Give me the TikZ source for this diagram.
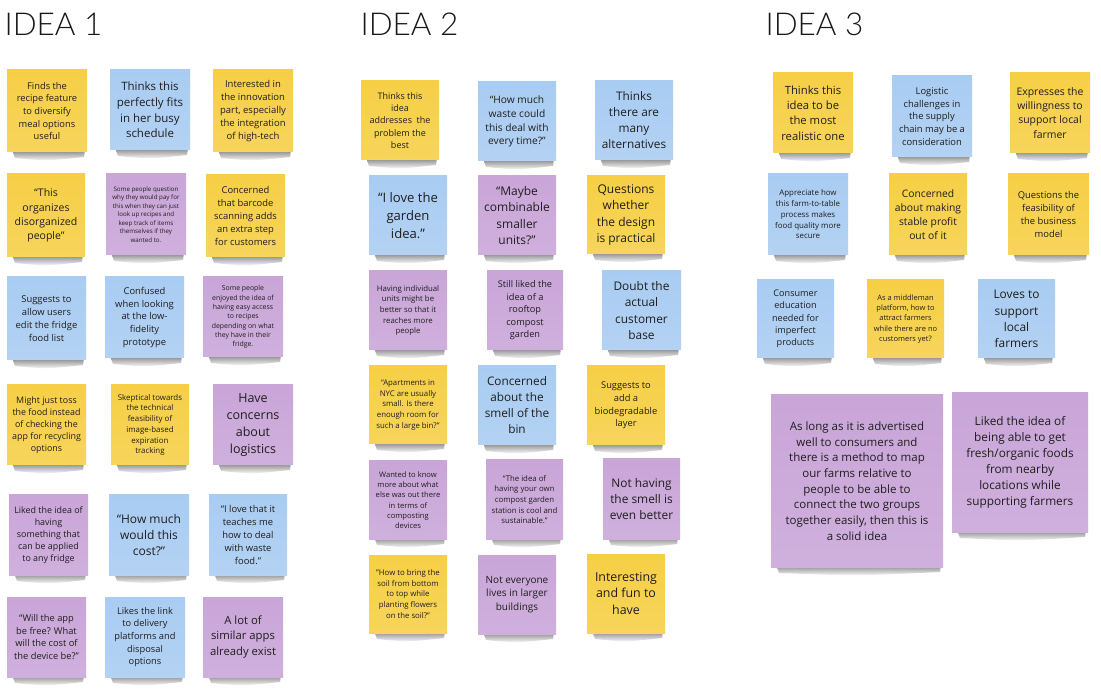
\documentclass[tikz,border=0pt]{standalone}
\usepackage{fontspec}
\setmainfont{Open Sans}
\IfFontExistsTF{Lato Light}{\newfontfamily\titlefont{Lato Light}}{\newfontfamily\titlefont{Lato}}

\definecolor{ny}{HTML}{F6CF45}
\definecolor{nb}{HTML}{A9CCF2}
\definecolor{np}{HTML}{C9A5D8}
\definecolor{ink}{HTML}{1E1E1E}

\newlength\notelead
\newcommand{\notefont}[1]{\setlength\notelead{#1pt}\setlength\notelead{1.36\notelead}\fontsize{#1}{\notelead}\selectfont}

\tikzset{
  note/.style={inner sep=0pt, align=center, text=ink},
  title/.style={anchor=base west, text=black!90, font=\titlefont\fontsize{31.5}{36}\selectfont},
  curl/.style={top color=black!60, bottom color=white, opacity=0.8, draw=none}
}

% sticky note: name, x1, y1, x2, y2, colour, font size, text
\newcommand{\stickynote}[8]{%
  \shade[curl] ({#2+5},{#5-2}) -- ({#2+8},{#5+6})
    .. controls ({(#2+#4)/2},{#5+9}) .. ({#4-3},{#5+5}) -- ({#4-2},{#5-2}) -- cycle;
  \node[note, top color=#6, bottom color=#6!88!white,
        minimum width={(#4-#2)*1pt}, minimum height={(#5-#3)*1pt},
        font=\notefont{#7}] (#1) at ({(#2+#4)/2},{(#3+#5)/2}) {#8};
}

\begin{document}
\begin{tikzpicture}[x=1pt,y=-1pt]
\fill[white] (0,0) rectangle (1101,692);
\useasboundingbox (0,0) rectangle (1101,692);

% column titles
\node[title] (t1) at (1,36) {IDEA 1};
\node[title] (t2) at (357,36) {IDEA 2};
\node[title] (t3) at (762,36) {IDEA 3};

% ---- IDEA 1 ----
\stickynote{a1}{7}{70}{87}{152}{ny}{9.3}{Finds the\\recipe feature\\to diversify\\meal options\\useful}
\stickynote{a2}{110}{70}{190}{150}{nb}{11.5}{Thinks this\\perfectly fits\\in her busy\\schedule}
\stickynote{a3}{213}{70}{293}{152}{ny}{9.5}{Interested in\\the innovation\\part, especially\\the integration\\of high-tech}
\stickynote{a4}{7}{174}{85}{257}{ny}{10.5}{“This\\organizes\\disorganized\\people”}
\stickynote{a5}{106}{174}{186}{255}{np}{6.2}{Some people question\\why they would pay for\\this when they can just\\look up recipes and\\keep track of items\\themselves if they\\wanted to.}
\stickynote{a6}{206}{175}{285}{257}{ny}{9.4}{Concerned\\that barcode\\scanning adds\\an extra step\\for customers}
\stickynote{a7}{7}{277}{86}{360}{nb}{9.4}{Suggests to\\allow users\\edit the fridge\\food list}
\stickynote{a8}{105}{277}{184}{358}{nb}{9.4}{Confused\\when looking\\at the low-\\fidelity\\prototype}
\stickynote{a9}{203}{277}{283}{357}{np}{6.9}{Some people\\enjoyed the idea of\\having easy access\\to recipes\\depending on what\\they have in their\\fridge.}
\stickynote{a10}{7}{385}{86}{465}{ny}{8.9}{Might just toss\\the food instead\\of checking the\\app for recycling\\options}
\stickynote{a11}{111}{385}{189}{465}{ny}{7.9}{Skeptical towards\\the technical\\feasibility of\\image-based\\expiration\\tracking}
\stickynote{a12}{213}{385}{293}{465}{np}{12.5}{Have\\concerns\\about\\logistics}
\stickynote{a13}{9}{495}{88}{575}{np}{8.9}{Liked the idea of\\having\\something that\\can be applied\\to any fridge}
\stickynote{a14}{109}{495}{189}{575}{nb}{12}{“How much\\would this\\cost?”}
\stickynote{a15}{209}{495}{287}{575}{nb}{9.4}{“I love that it\\teaches me\\how to deal\\with waste\\food.”}
\stickynote{a16}{7}{597}{86}{677}{np}{9.3}{“Will the app\\be free? What\\will the cost of\\the device be?”}
\stickynote{a17}{105}{597}{185}{677}{nb}{9.3}{Likes the link\\to delivery\\platforms and\\disposal\\options}
\stickynote{a18}{203}{597}{283}{677}{np}{11.3}{A lot of\\similar apps\\already exist}

% ---- IDEA 2 ----
\stickynote{b1}{361}{81}{439}{160}{ny}{9.0}{Thinks this\\idea\\addresses~ the\\problem the\\best}
\stickynote{b2}{478}{82}{556}{161}{nb}{10.2}{“How much\\waste could\\this deal with\\every time?”}
\stickynote{b3}{595}{81}{673}{160}{nb}{11.8}{Thinks\\there are\\many\\alternatives}
\stickynote{b4}{369}{176}{447}{255}{nb}{13.1}{“I love the\\garden\\idea.”}
\stickynote{b5}{478}{176}{556}{255}{np}{12}{“Maybe\\combinable\\smaller\\units?”}
\stickynote{b6}{587}{176}{665}{254}{ny}{12}{Questions\\whether\\the design\\is practical}
\stickynote{b7}{369}{271}{447}{350}{np}{7.8}{Having individual\\units might be\\better so that it\\reaches more\\people}
\stickynote{b8}{487}{271}{563}{350}{np}{9.2}{Still liked the\\idea of a\\rooftop\\compost\\garden}
\stickynote{b9}{602}{271}{681}{350}{nb}{11.9}{Doubt the\\actual\\customer\\base}
\stickynote{b10}{369}{366}{447}{444}{ny}{7.8}{“Apartments in\\NYC are usually\\small. Is there\\enough room for\\such a large bin?”}
\stickynote{b11}{478}{366}{556}{445}{nb}{11.8}{Concerned\\about the\\smell of the\\bin}
\stickynote{b12}{587}{366}{665}{445}{ny}{9.3}{Suggests to\\add a\\biodegradable\\layer}
\stickynote{b13}{369}{461}{447}{539}{np}{7.6}{Wanted to know\\more about what\\else was out there\\in terms of\\composting\\devices}
\stickynote{b14}{486}{460}{563}{539}{np}{7.8}{“The idea of\\having your own\\compost garden\\station is cool and\\sustainable.”}
\stickynote{b15}{603}{459}{680}{539}{np}{11.9}{Not having\\the smell is\\even better}
\stickynote{b16}{369}{555}{447}{633}{ny}{7.8}{"How to bring the\\soil from bottom\\to top while\\planting flowers\\on the soil?"}
\stickynote{b17}{478}{555}{556}{634}{np}{10}{Not everyone\\lives in larger\\buildings}
\stickynote{b18}{587}{554}{665}{633}{ny}{12.4}{Interesting\\and fun to\\have}

% ---- IDEA 3 ----
\stickynote{c1}{773}{73}{853}{153}{ny}{11.3}{Thinks this\\idea to be\\the most\\realistic one}
\stickynote{c2}{892}{76}{972}{157}{nb}{9.4}{Logistic\\challenges in\\the supply\\chain may be a\\consideration}
\stickynote{c3}{1010}{73}{1090}{153}{ny}{10.4}{Expresses the\\willingness to\\support local\\farmer}
\stickynote{c4}{768}{174}{848}{255}{nb}{7.9}{Appreciate how\\this farm-to-table\\process makes\\food quality more\\secure}
\stickynote{c5}{889}{174}{967}{255}{ny}{10.3}{Concerned\\about making\\stable profit\\out of it}
\stickynote{c6}{1008}{174}{1089}{255}{ny}{9.4}{Questions the\\feasibility of\\the business\\model}
\stickynote{c7}{757}{280}{834}{358}{nb}{9.1}{Consumer\\education\\needed for\\imperfect\\products}
\stickynote{c8}{867}{280}{944}{358}{ny}{7.5}{As a middleman\\platform, how to\\attract farmers\\while there are no\\customers yet?}
\stickynote{c9}{978}{280}{1055}{358}{nb}{11.9}{Loves to\\support\\local\\farmers}
\stickynote{c10}{771}{395}{943}{567}{np}{11.5}{As long as it is advertised\\well to consumers and\\there is a method to map\\our farms relative to\\people to be able to\\connect the two groups\\together easily, then this is\\a solid idea}
\stickynote{c11}{952}{393}{1088}{532}{np}{11.8}{Liked the idea of\\being able to get\\fresh/organic foods\\from nearby\\locations while\\supporting farmers}
\end{tikzpicture}
\end{document}
